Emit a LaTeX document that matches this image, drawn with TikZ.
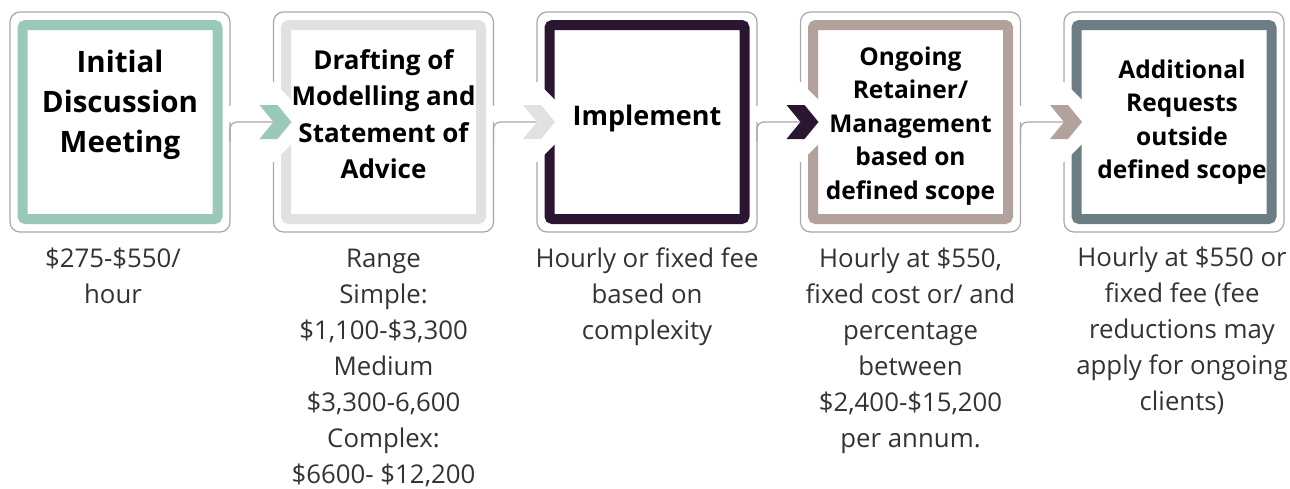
\documentclass[tikz,border=0pt]{standalone}
\usepackage{fontspec}
\setmainfont{Open Sans}
\usetikzlibrary{positioning, calc}
\definecolor{mint}{HTML}{9BC9B9}
\definecolor{mist}{HTML}{E1E1E1}
\definecolor{plum}{HTML}{2A1630}
\definecolor{taupe}{HTML}{B2A29B}
\definecolor{slate}{HTML}{6C7D84}
\definecolor{rim}{HTML}{A8A8A8}
\tikzset {
    shell/.style = {
        draw=rim,
        fill=white,
        line width=1.2pt,
        rounded corners=10pt,
        minimum width=220pt,
        minimum height=220pt,
        outer sep=0pt
    },
    stage/.style = {
        draw=#1,
        line width=10pt,
        rounded corners=3pt,
        minimum width=195pt,
        minimum height=194pt
    },
    stagetext/.style = {
        align=center,
        inner sep=0pt,
        text=black
    },
    fee/.style = {
        align=center,
        anchor=north,
        inner sep=0pt,
        text=black!80,
        font={\fontsize{25.8}{36}\selectfont}
    },
    link/.style = {
        draw=rim,
        line width=1.2pt,
        rounded corners=7pt
    },
    gap/.style = {
        draw=white,
        line width=3pt
    },
    halo/.pic = {
        \fill[white] (-16,-40) -- (0,-40) -- (40,0) -- (0,40) -- (-16,40) -- cycle;
    },
    chevron/.pic = {
        \fill (-14,-17) -- (4,-17) -- (18,0) -- (4,17) -- (-14,17) -- (0,0) -- cycle;
    }
}

\begin{document}
\begin{tikzpicture}[x=1pt, y=-1pt, node distance=43.5pt]
        \useasboundingbox (0,0) rectangle (1290,488);

        % Outer frames, left to right
        \node [shell] at (120,122)              (o1)    {};
        \node [shell, right=of o1]              (o2)    {};
        \node [shell, right=of o2]              (o3)    {};
        \node [shell, right=of o3]              (o4)    {};
        \node [shell, right=of o4]              (o5)    {};

        % Coloured stage boxes inside the frames
        \node [stage=mint]  at (o1.center)      (s1)    {};
        \node [stage=mist]  at (o2.center)      (s2)    {};
        \node [stage=plum]  at (o3.center)      (s3)    {};
        \node [stage=taupe] at (o4.center)      (s4)    {};
        \node [stage=slate] at (o5.center)      (s5)    {};

        % Breaks in the frames where links leave and chevrons enter
        \path [gap]     ($(o1.east)+(0,-16)$)   --  (o1.east);
        \path [gap]     ($(o2.east)+(0,-16)$)   --  (o2.east);
        \path [gap]     ($(o3.east)+(0,-16)$)   --  (o3.east);
        \path [gap]     ($(o4.east)+(0,-16)$)   --  (o4.east);
        \pic at (o2.west) {halo};
        \pic at (o3.west) {halo};
        \pic at (o4.west) {halo};
        \pic at (o5.west) {halo};

        % Links between the frames
        \path [link]    ($(o1.east)+(0,20)$)    |-  (o2.west);
        \path [link]    ($(o2.east)+(0,20)$)    |-  (o3.west);
        \path [link]    ($(o3.east)+(0,20)$)    |-  (o4.west);
        \path [link]    ($(o4.east)+(0,20)$)    |-  (o5.west);
        \pic [fill=mint]  at (o2.west) {chevron};
        \pic [fill=mist]  at (o3.west) {chevron};
        \pic [fill=plum]  at (o4.west) {chevron};
        \pic [fill=taupe] at (o5.west) {chevron};

        % Stage titles
        \node [stagetext, font=\fontsize{29.5}{40}\selectfont\bfseries]
            at ([yshift=17pt]s1.center)              (t1)    {Initial\\Discussion\\Meeting};
        \node [stagetext, font=\fontsize{26}{36.5}\selectfont\bfseries]
            at ([yshift=8pt]s2.center)               (t2)    {Drafting of\\Modelling and\\Statement of\\Advice};
        \node [stagetext, font=\fontsize{27}{36}\selectfont\bfseries]
            at ([yshift=4pt]s3.center)               (t3)    {Implement};
        \node [stagetext, font=\fontsize{24.5}{33.5}\selectfont\bfseries]
            at ([yshift=-4pt]s4.center)              (t4)    {Ongoing\\Retainer/\\Management\\based on\\defined scope};
        \node [stagetext, font=\fontsize{24.5}{33.5}\selectfont\bfseries]
            at ([xshift=8pt]s5.center)               (t5)    {Additional\\Requests\\outside\\defined scope};

        % Fees underneath each frame
        \node [fee, below=16pt of o1, xshift=-7pt]      (f1)    {\$275-\$550/\\hour};
        \node [fee, below=17pt of o2]                   (f2)    {Range\\Simple:\\\$1,100-\$3,300\\Medium\\\$3,300-6,600\\Complex:\\\$6600- \$12,200};
        \node [fee, below=16pt of o3]                   (f3)    {Hourly or fixed fee\\based on\\complexity};
        \node [fee, below=16pt of o4]                   (f4)    {Hourly at \$550,\\fixed cost or/ and\\percentage\\between\\\$2,400-\$15,200\\per annum.};
        \node [fee, below=15pt of o5, xshift=8pt]       (f5)    {Hourly at \$550 or\\fixed fee (fee\\reductions may\\apply for ongoing\\clients)};
\end{tikzpicture}
\end{document}
